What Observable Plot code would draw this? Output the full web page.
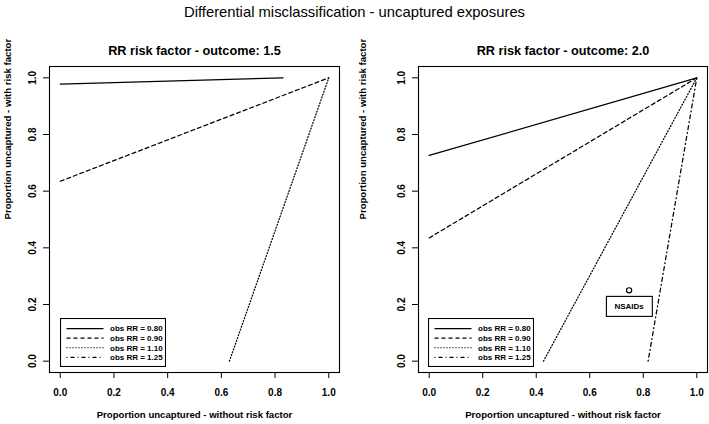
<!DOCTYPE html>
<html><head><meta charset="utf-8">
<script src="https://cdn.jsdelivr.net/npm/d3@7"></script>
<script src="https://cdn.jsdelivr.net/npm/@observablehq/plot@0.6"></script>
<style>
body{margin:0;background:#fff;}
#chart{position:relative;width:709px;height:424px;font-family:"Liberation Sans",Arial,sans-serif;background:#fff;}
#title{position:absolute;left:0;top:0;width:709px;height:24px;line-height:24px;text-align:center;font-size:14.8px;color:#000;}
.panel{position:absolute;top:24px;}
.legend{position:absolute;}
</style></head><body><div id="chart"><div id="title">Differential misclassification - uncaptured exposures</div></div>
<script>
// ---- data ----
const mainTitle = "Differential misclassification - uncaptured exposures";
const panelTitles = ["RR risk factor - outcome: 1.5", "RR risk factor - outcome: 2.0"];
const xLabel = "Proportion uncaptured - without risk factor";
const yLabel = "Proportion uncaptured - with risk factor";
const obsRR = ["0.80", "0.90", "1.10", "1.25"];
const xTicks = [0, 0.2, 0.4, 0.6, 0.8, 1.0];
const yTicks = [0, 0.2, 0.4, 0.6, 0.8, 1.0];

// RR risk factor - outcome 1.5 (obs RR 1.25 lies outside the plotted range)
const rr15_080_x = [0, 0.83],  rr15_080_y = [0.978, 1.0];
const rr15_090_x = [0, 1.0],   rr15_090_y = [0.635, 1.0];
const rr15_110_x = [0.63, 1.0], rr15_110_y = [0, 1.0];
const rr15_125_x = [],         rr15_125_y = [];

// RR risk factor - outcome 2.0
const rr20_080_x = [0, 1.0],    rr20_080_y = [0.726, 1.0];
const rr20_090_x = [0, 1.0],    rr20_090_y = [0.435, 1.0];
const rr20_110_x = [0.427, 1.0], rr20_110_y = [0, 1.0];
const rr20_125_x = [0.818, 1.0], rr20_125_y = [0, 1.0];

// observed point
const pointX = [0.747], pointY = [0.25], pointLabel = ["NSAIDs"];

// ---- styles ----
const dashes = [null, "4,3", "1,2", "1,3,4,3"];
const FONT = '"Liberation Sans", Arial, sans-serif';

function toRows(xs, ys) { return xs.map((x, i) => ({x, y: ys[i]})); }

function makePanel(title, series, withPoint, width, ml, mr) {
  const marks = [Plot.frame({stroke: "#000", strokeWidth: 1.1})];
  series.forEach(([xs, ys], i) => {
    if (!xs.length) return;
    const o = {x: "x", y: "y", stroke: "#000", strokeWidth: 1.25};
    if (dashes[i]) o.strokeDasharray = dashes[i];
    marks.push(Plot.line(toRows(xs, ys), o));
  });
  if (withPoint) {
    marks.push(Plot.dot(toRows(pointX, pointY), {x: "x", y: "y", r: 2.6, stroke: "#000", strokeWidth: 1.2, fill: "none"}));
    marks.push(Plot.text(pointX.map((x, i) => ({x, y: pointY[i], t: pointLabel[i]})), {
      x: "x", y: "y", text: "t", dy: 16, fontSize: 8, fontWeight: "bold", fill: "#000", className: "ptlabel"
    }));
  }
  marks.push(Plot.axisX(xTicks, {label: null, tickSize: 6, tickPadding: 10, tickFormat: d3.format(".1f"), fontSize: 10, fontWeight: "bold", stroke: "#000", fill: "#000"}));
  marks.push(Plot.axisY(yTicks, {label: null, tickSize: 6, tickRotate: -90, tickPadding: 8, tickFormat: d3.format(".1f"), fontSize: 10, fontWeight: "bold", stroke: "#000", fill: "#000"}));
  marks.push(Plot.text([title], {frameAnchor: "top", dy: -21, fontSize: 12.7, fontWeight: "bold", fill: "#000"}));
  marks.push(Plot.text([xLabel], {frameAnchor: "bottom", dy: 45, fontSize: 9.6, fontWeight: "bold", fill: "#000"}));
  marks.push(Plot.text([yLabel], {frameAnchor: "left", dx: -ml + 7.5, rotate: -90, fontSize: 9.6, fontWeight: "bold", fill: "#000"}));
  return Plot.plot({
    width, height: 400,
    marginLeft: ml, marginRight: mr, marginTop: 42, marginBottom: 52,
    x: {domain: [-0.04, 1.04]},
    y: {domain: [-0.04, 1.04]},
    style: {fontFamily: FONT, background: "#fff", color: "#000", overflow: "visible"},
    marks
  });
}

function makeLegend(left, top) {
  const w = 105, h = 48;
  const svg = d3.create("svg").attr("class", "legend").attr("width", w + 1).attr("height", h + 1)
    .style("left", left + "px").style("top", top + "px").style("position", "absolute");
  svg.append("rect").attr("x", 0.5).attr("y", 0.5).attr("width", w).attr("height", h)
    .attr("fill", "#fff").attr("stroke", "#000").attr("stroke-width", 1.1);
  obsRR.forEach((v, i) => {
    const yy = 10.5 + i * 9.6;
    const ln = svg.append("line").attr("x1", 6.5).attr("x2", 43.5).attr("y1", yy).attr("y2", yy)
      .attr("stroke", "#000").attr("stroke-width", 1.25);
    if (dashes[i]) ln.attr("stroke-dasharray", dashes[i]);
    svg.append("text").attr("x", 50).attr("y", yy).attr("dy", "0.35em")
      .attr("font-family", FONT).attr("font-size", 8).attr("font-weight", "bold").text("obs RR = " + v);
  });
  return svg.node();
}

const chart = document.getElementById("chart");
const p1 = makePanel(panelTitles[0], [[rr15_080_x, rr15_080_y], [rr15_090_x, rr15_090_y], [rr15_110_x, rr15_110_y], [rr15_125_x, rr15_125_y]], false, 355, 49, 16);
p1.classList.add("panel"); p1.style.left = "0px";
chart.appendChild(p1);
const p2 = makePanel(panelTitles[1], [[rr20_080_x, rr20_080_y], [rr20_090_x, rr20_090_y], [rr20_110_x, rr20_110_y], [rr20_125_x, rr20_125_y]], true, 354, 63, 2);
p2.classList.add("panel"); p2.style.left = "355px";
chart.appendChild(p2);

chart.appendChild(makeLegend(60, 318));
chart.appendChild(makeLegend(428, 318));

// box around point label (same local transform as the text)
d3.select(p2).selectAll(".ptlabel text").each(function() {
  const b = this.getBBox();
  d3.select(this.parentNode).insert("rect", "text")
    .attr("transform", this.getAttribute("transform"))
    .attr("x", b.x - 8).attr("y", b.y - 5.5).attr("width", b.width + 16).attr("height", b.height + 11)
    .attr("fill", "#fff").attr("stroke", "#000").attr("stroke-width", 1.1);
});
</script></body></html>
